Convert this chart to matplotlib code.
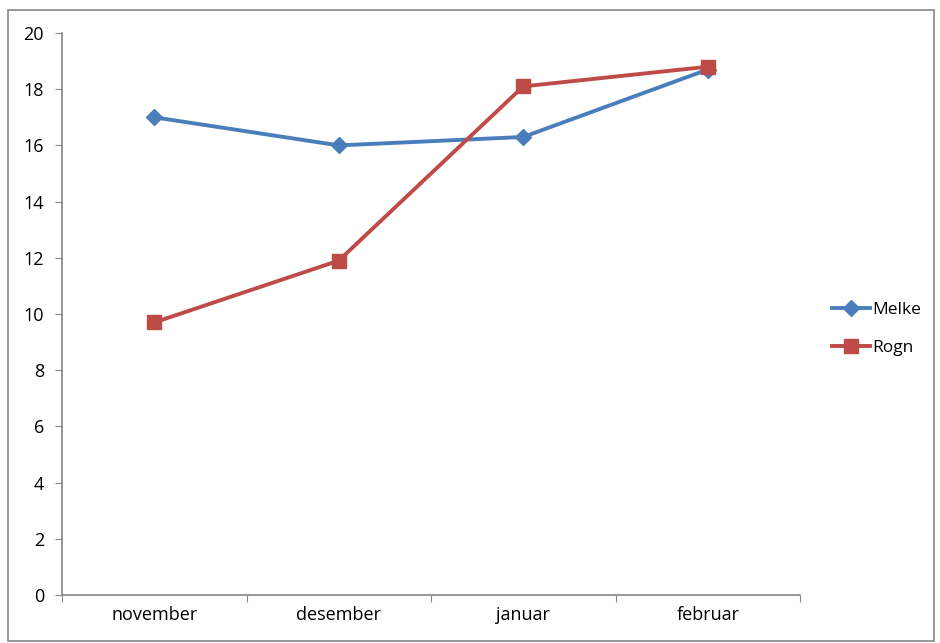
import matplotlib.pyplot as plt
from matplotlib.patches import Rectangle

months = ['november', 'desember', 'januar', 'februar']
melke = [17.0, 16.0, 16.3, 18.7]
rogn = [9.7, 11.9, 18.1, 18.8]

plt.rcParams['font.family'] = ['Open Sans', 'DejaVu Sans']

fig = plt.figure(figsize=(9.4, 6.43), dpi=100)
ax = fig.add_axes([62/940, 48/643, 738/940, 562/643])

x = range(len(months))
ax.plot(x, melke, color='#4A7EBB', lw=2.8, marker='D', ms=8, label='Melke')
ax.plot(x, rogn, color='#BE4B48', lw=2.8, marker='s', ms=10, label='Rogn')

ax.set_xlim(-0.5, len(months) - 0.5)
ax.set_ylim(0, 20)
ax.set_yticks(range(0, 21, 2))
ax.set_xticks([i - 0.5 for i in range(len(months) + 1)])
ax.set_xticklabels([])
ax.set_xticks(list(x), minor=True)
ax.set_xticklabels(months, minor=True)
ax.tick_params(axis='x', which='minor', length=0, pad=8, labelsize=13)
ax.tick_params(axis='x', which='major', length=5, color='#868686', direction='out')
ax.tick_params(axis='y', length=5, color='#868686', direction='out', labelsize=13, pad=8)

for s in ['top', 'right']:
    ax.spines[s].set_visible(False)
for s in ['left', 'bottom']:
    ax.spines[s].set_color('#868686')
    ax.spines[s].set_linewidth(1.2)

ax.legend(loc='center left', bbox_to_anchor=(1.022, 0.474), frameon=False,
          fontsize=12.5, handlelength=2.2, handletextpad=0.1, labelspacing=1.25)

fig.patches.append(Rectangle((8/940, 2/643), 926/940, 631/643, transform=fig.transFigure,
                             fill=False, edgecolor='#868686', lw=1.2))

fig.savefig('out.png', dpi=100)
